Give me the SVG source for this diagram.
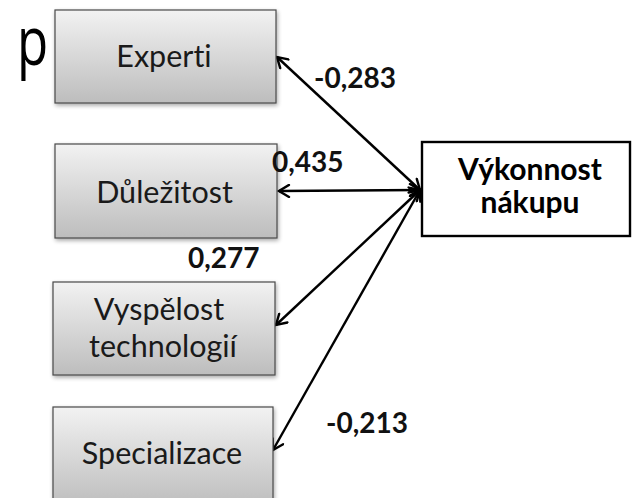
<svg xmlns="http://www.w3.org/2000/svg" width="632" height="498" viewBox="0 0 632 498">
<style>
text{font-variant-ligatures:none}
.box{fill:url(#g);stroke:#4a4a4a;stroke-width:1.2;filter:url(#sh)}
.t{font-family:Lato,"Open Sans",sans-serif;font-size:30.5px;fill:#1a1a1a;text-anchor:middle}
.k{font-family:Lato,"Open Sans",sans-serif;font-size:30px;font-weight:bold;fill:#000;text-anchor:middle}
.b{font-family:Lato,"Open Sans",sans-serif;font-size:28px;font-weight:bold;fill:#111}
</style>
<defs>
<linearGradient id="g" x1="0" y1="0" x2="0" y2="1">
<stop offset="0" stop-color="#f2f2f2"/>
<stop offset="1" stop-color="#bdbdbd"/>
</linearGradient>
<filter id="sh" x="-10%" y="-10%" width="125%" height="130%">
<feGaussianBlur in="SourceAlpha" stdDeviation="2"/>
<feOffset dx="1" dy="2" result="o"/>
<feComponentTransfer><feFuncA type="linear" slope="0.35"/></feComponentTransfer>
<feMerge><feMergeNode/><feMergeNode in="SourceGraphic"/></feMerge>
</filter>
<marker id="ah" viewBox="-12 -7 14 14" markerWidth="14" markerHeight="14" refX="0" refY="0" orient="auto-start-reverse" markerUnits="userSpaceOnUse">
<path d="M-10,-6 L0,0 L-10,6" fill="none" stroke="#000" stroke-width="2.4" stroke-linecap="round" stroke-linejoin="miter"/>
</marker>
</defs>
<rect width="632" height="498" fill="#fff"/>
<g id="connectors" stroke="#000" stroke-width="2.4" fill="none">
<line x1="420" y1="190" x2="277" y2="57" marker-start="url(#ah)" marker-end="url(#ah)"/>
<line x1="420" y1="190" x2="279" y2="191" marker-start="url(#ah)" marker-end="url(#ah)"/>
<line x1="420" y1="190" x2="276" y2="325" marker-start="url(#ah)" marker-end="url(#ah)"/>
<line x1="420" y1="190" x2="273" y2="450" marker-start="url(#ah)" marker-end="url(#ah)"/>
</g>
<g id="experti"><rect class="box" x="55" y="10" width="221" height="93"/><text class="t" x="164" y="67">Experti</text></g>
<g id="dulezitost"><rect class="box" x="55" y="144" width="222" height="94"/><text class="t" x="164.5" y="203">Důležitost</text></g>
<g id="vyspelost"><rect class="box" x="53" y="282" width="222" height="93"/><text class="t" x="159" y="320">Vyspělost</text><text class="t" x="163" y="357">technologií</text></g>
<g id="specializace"><rect class="box" x="53" y="407" width="220" height="100"/><text class="t" x="162" y="464">Specializace</text></g>
<g id="vykonnost"><rect x="422" y="142" width="208" height="94" fill="#fff" stroke="#000" stroke-width="2.4"/><text class="k" x="530" y="180">Výkonnost</text><text class="k" x="530" y="213">nákupu</text></g>
<g id="labels">
<text class="b" x="314" y="88">-0,283</text>
<text class="b" x="272" y="172">0,435</text>
<text class="b" x="188" y="268">0,277</text>
<text class="b" x="326" y="433">-0,213</text>
</g>
<text transform="translate(17,65) scale(0.75,1)" font-family="'Open Sans',sans-serif" font-size="68" fill="#000">p</text>
</svg>
